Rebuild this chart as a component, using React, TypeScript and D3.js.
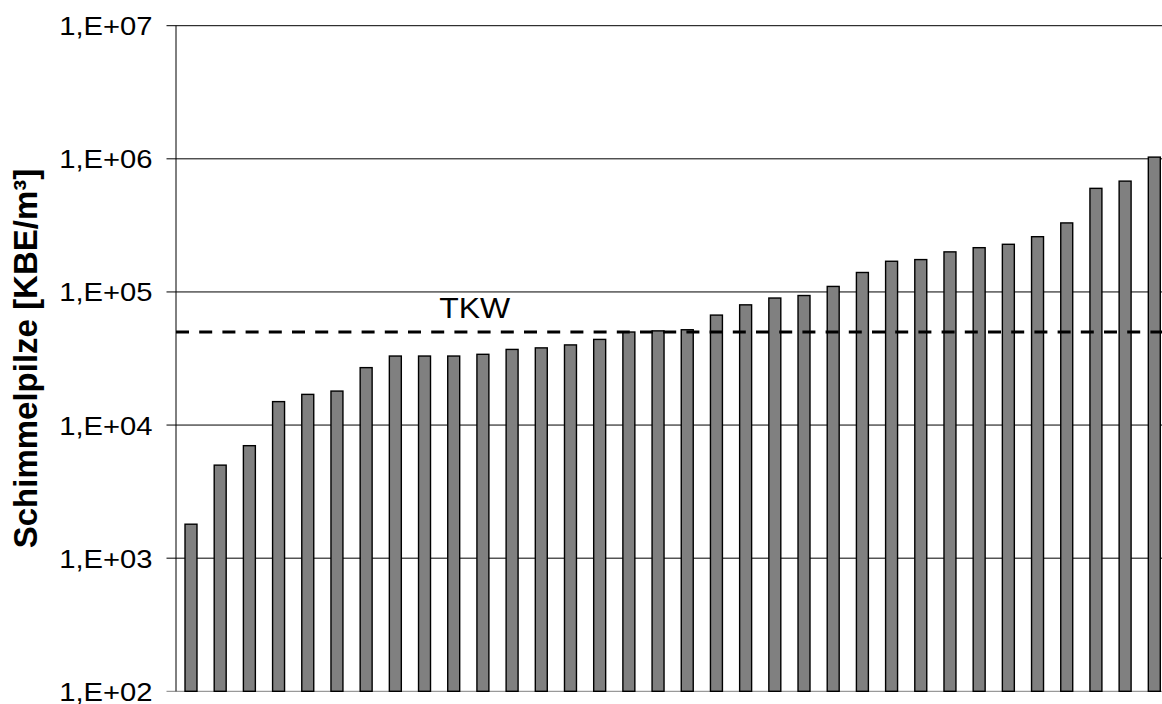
import * as d3 from "d3";

const WIDTH = 1162;
const HEIGHT = 704;

// mould counts per sample, sorted ascending
const values = [
  1800, 5000, 7000, 15000, 17000, 18000, 27000, 33000, 33000, 33000, 34000, 37000, 38000, 40000,
  44000, 50000, 51000, 52000, 67000, 80000, 90000, 94000, 110000, 140000, 170000, 175000, 200000,
  215000, 228000, 260000, 330000, 600000, 680000, 1030000,
];
const samples = values.map((_, i) => `P${i + 1}`);

const yTicks = [1e2, 1e3, 1e4, 1e5, 1e6, 1e7];
const yTickLabels = ["1,E+02", "1,E+03", "1,E+04", "1,E+05", "1,E+06", "1,E+07"];

const threshold = 50000;
const thresholdLabel = "TKW";
const yTitle = "Schimmelpilze [KBE/m³]";

const FONT = "'Liberation Sans', Arial, sans-serif";

export default function App() {
  const margin = { top: 25.7, bottom: 691.3, left: 176.4, right: 1168.9 };

  const x = d3
    .scaleBand<string>()
    .domain(samples)
    .range([margin.left, margin.right])
    .paddingInner(0.59)
    .paddingOuter(0.295);

  const y = d3.scaleLog().domain([1e2, 1e7]).range([margin.bottom, margin.top]);

  const axisX = 176;
  const tY = y(threshold);

  return (
    <svg
      width={WIDTH}
      height={HEIGHT}
      viewBox={`0 0 ${WIDTH} ${HEIGHT}`}
      style={{ position: "absolute", left: 0, top: 0, background: "#fff" }}
    >
      {/* gridlines + ticks */}
      {yTicks.map((t, i) => (
        <g key={t}>
          <line
            x1={166.5}
            x2={WIDTH}
            y1={y(t)}
            y2={y(t)}
            stroke={i === 0 ? "#808080" : "#000"}
            strokeWidth={1}
          />
          <text
            transform={`translate(152.5,${y(t) + 9.5}) scale(1.14,1)`}
            textAnchor="end"
            fontFamily={FONT}
            fontSize={25.6}
            fill="#000"
          >
            {yTickLabels[i]}
          </text>
        </g>
      ))}

      {/* bars */}
      {values.map((v, i) => (
        <rect
          key={samples[i]}
          x={x(samples[i])}
          y={y(v)}
          width={x.bandwidth()}
          height={y(1e2) - y(v)}
          fill="#808080"
          stroke="#000"
          strokeWidth={1.4}
        />
      ))}

      {/* y axis line */}
      <line x1={axisX} x2={axisX} y1={margin.top} y2={margin.bottom} stroke="#000" strokeWidth={1} />

      {/* threshold */}
      <line
        x1={axisX}
        x2={WIDTH}
        y1={tY}
        y2={tY}
        stroke="#000"
        strokeWidth={3}
        strokeDasharray="13 10.2"
      />
      <text
        transform={`translate(439.3,${tY - 13.6}) scale(1.1,1)`}
        fontFamily={FONT}
        fontSize={29}
        fill="#000"
      >
        {thresholdLabel}
      </text>

      <text
        transform={`translate(36.5,${(margin.top + margin.bottom) / 2}) rotate(-90)`}
        textAnchor="middle"
        fontFamily={FONT}
        fontWeight="bold"
        fontSize={33}
        fill="#000"
      >
        {yTitle}
      </text>
    </svg>
  );
}
